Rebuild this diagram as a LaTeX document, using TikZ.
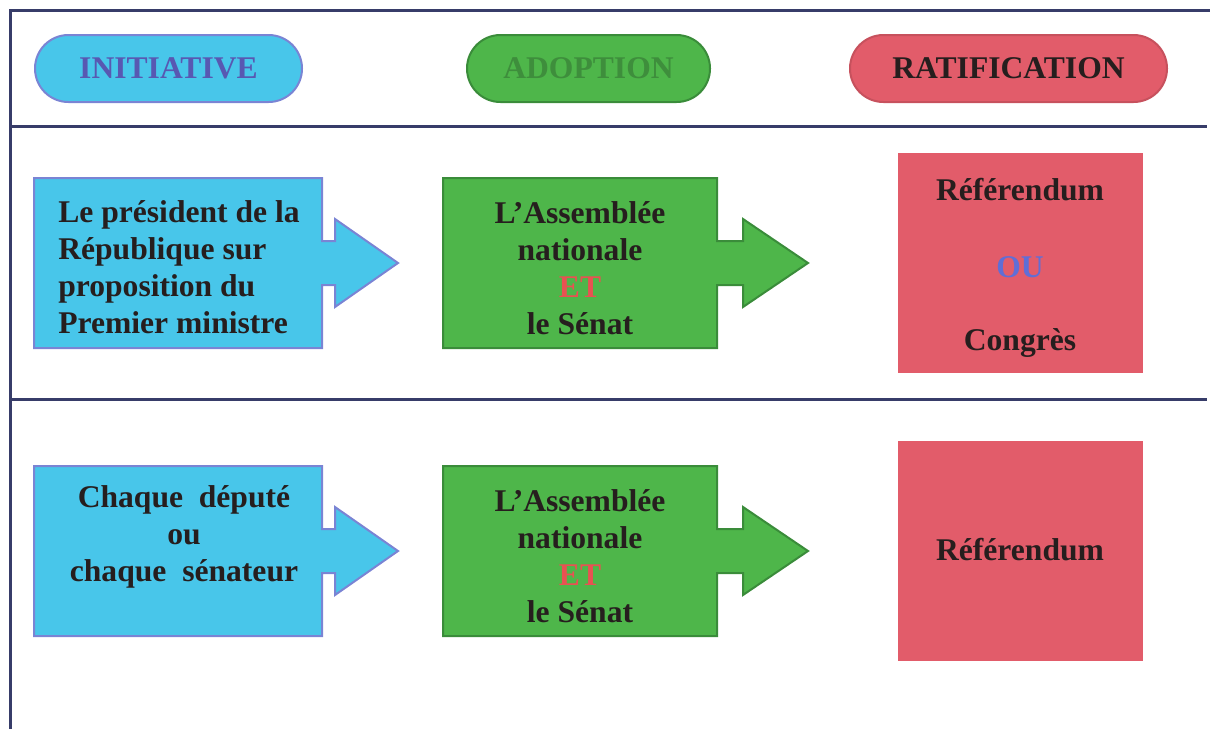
\documentclass[tikz,border=0pt]{standalone}
\usepackage{fontspec}
\setmainfont{Liberation Serif}
\usepackage{tikz}
\usetikzlibrary{positioning}
\definecolor{cadre}{RGB}{55,60,105}
\definecolor{bleu}{RGB}{72,198,234}
\definecolor{bleubord}{RGB}{122,132,212}
\definecolor{vert}{RGB}{78,182,74}
\definecolor{vertbord}{RGB}{58,140,58}
\definecolor{rouge}{RGB}{226,92,106}
\definecolor{encre}{RGB}{38,30,30}
\definecolor{titrebleu}{RGB}{88,88,178}
\definecolor{titrevert}{RGB}{62,142,60}
\definecolor{rougeet}{RGB}{232,82,82}
\definecolor{bleuou}{RGB}{96,110,214}
\tikzset{
  pill/.style={rounded corners=16.7pt, minimum height=33.5pt, inner sep=0pt,
    line width=1pt, font=\bfseries\fontsize{15.8}{18.5}\selectfont},
  txt/.style={font=\bfseries\fontsize{15.8}{18.5}\selectfont, text=encre, inner sep=0pt},
  fleche/.style={line width=1pt, line join=miter}
}

\begin{document}
\begin{tikzpicture}[x=0.5pt,y=-0.5pt]
    \useasboundingbox (0,0) rectangle (1210,729);
    % cadre du tableau
    \draw[cadre, line width=1.5pt] (10,729) -- (10,10) -- (1210,10);
    \draw[cadre, line width=1.5pt] (10,126) -- (1207,126);
    \draw[cadre, line width=1.5pt] (10,399) -- (1207,399);

    % en-tetes
    \node[pill, fill=bleu, draw=bleubord, minimum width=133.5pt, text=titrebleu] (initiative) at (168.5,68.5) {INITIATIVE};
    \node[pill, fill=vert, draw=vertbord, minimum width=121.5pt, text=titrevert] (adoption) at (588.5,68.5) {ADOPTION};
    \node[pill, fill=rouge, draw=rouge!88!black, minimum width=158.5pt, text=encre] (ratification) at (1008.5,68.5) {RATIFICATION};

    % cases fleches et cases rouges
    \foreach \c/\h in {263/110, 551/110} {
        \filldraw[fleche, fill=bleu, draw=bleubord] (34,\c-85) -- (322,\c-85) -- (322,\c-22) -- (335,\c-22)
            -- (335,\c-44) -- (398,\c) -- (335,\c+44) -- (335,\c+22) -- (322,\c+22) -- (322,\c+85) -- (34,\c+85) -- cycle;
        \filldraw[fleche, fill=vert, draw=vertbord] (443,\c-85) -- (717,\c-85) -- (717,\c-22) -- (743,\c-22)
            -- (743,\c-44) -- (808,\c) -- (743,\c+44) -- (743,\c+22) -- (717,\c+22) -- (717,\c+85) -- (443,\c+85) -- cycle;
        \fill[rouge] (898,\c-\h) rectangle (1143,\c+\h);
    }

    % premiere ligne
    \node[txt, align=left] (president) at (179,267) {Le président de la\\République sur\\proposition du\\Premier ministre};
    \node[txt, align=center] (assemblee1) at (580,268) {L’Assemblée\\nationale\\{\color{rougeet}ET}\\le Sénat};
    \node[txt] (referendum1) at (1020,190) {Référendum};
    \node[txt, text=bleuou] (ou) at (1020,267) {OU};
    \node[txt] (congres) at (1020,343) {Congrès};

    % deuxieme ligne
    \node[txt, align=center] (depute) at (184,537) {Chaque~~député\\ou\\chaque~~sénateur};
    \node[txt, align=center] (assemblee2) at (580,556) {L’Assemblée\\nationale\\{\color{rougeet}ET}\\le Sénat};
    \node[txt] (referendum2) at (1020,550) {Référendum};
\end{tikzpicture}
\end{document}
